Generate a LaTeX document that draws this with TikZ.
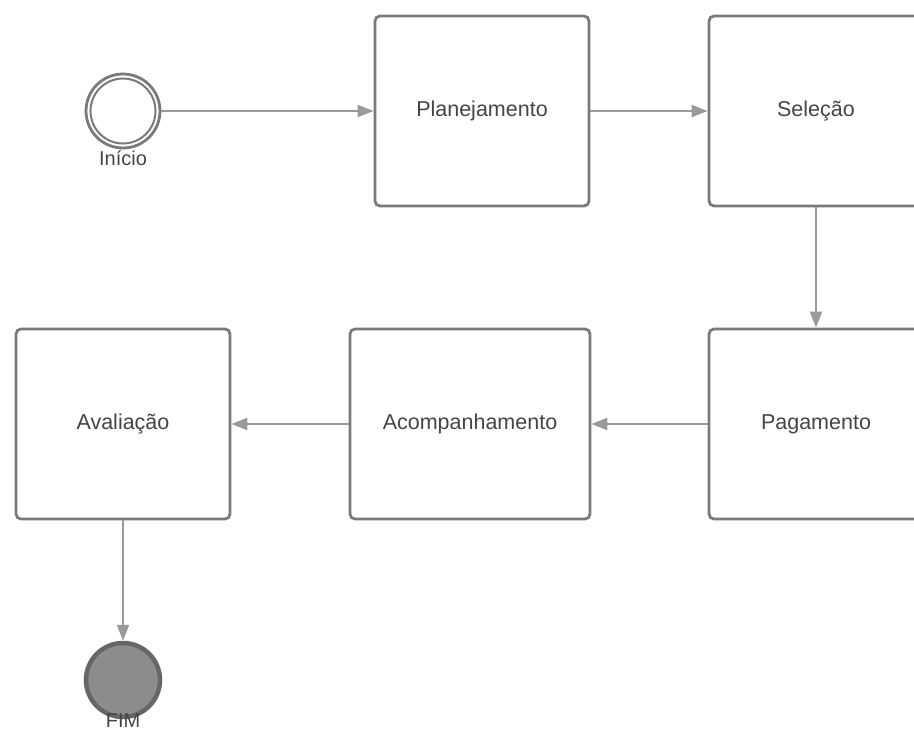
\documentclass[tikz,border=0pt]{standalone}
\usepackage{fontspec}
\setmainfont{Liberation Sans}
\usetikzlibrary{arrows.meta}
\definecolor{boxline}{HTML}{7A7A7A}
\definecolor{flowline}{HTML}{9A9A9A}
\definecolor{txt}{HTML}{454545}
\definecolor{endfill}{HTML}{8C8C8C}
\definecolor{endline}{HTML}{666666}
\tikzset{
  task/.style={draw=boxline, line width=2.8pt, rounded corners=5pt, fill=white,
    minimum width=214pt, minimum height=190pt, text=txt,
    font=\fontsize{21.5}{24}\selectfont, inner sep=0pt},
  flow/.style={draw=flowline, line width=2.2pt,
    -{Triangle[length=16pt,width=12pt]}},
  lbl/.style={text=txt, font=\fontsize{20}{22}\selectfont, inner sep=0pt},
}
\begin{document}
\begin{tikzpicture}[x=1pt,y=-1pt]
\useasboundingbox (0,0) rectangle (914,731);
\begin{scope}
\clip (0,0) rectangle (914,731);
% process boxes
\node[task] (plan) at (482,111) {Planejamento};
\node[task] (sel)  at (816,111) {Seleção};
\node[task] (pag)  at (816,424) {Pagamento};
\node[task, minimum width=240pt] (acomp) at (470,424) {Acompanhamento};
\node[task] (aval) at (123,424) {Avaliação};
% start event: double ring
\node[circle, draw=boxline, line width=2.8pt, minimum size=74pt, inner sep=0pt] (ini) at (123,111) {};
\draw[boxline, line width=2pt] (ini.center) circle (32.5pt);
\node[lbl] (inilbl) at (123,158) {Início};
% end event
\node[circle, draw=endline, fill=endfill, line width=4.5pt, minimum size=74pt, inner sep=0pt] (fim) at (123,680) {};
\node[lbl] (fimlbl) at (123,721) {FIM};
% sequence flows
\draw[flow] (ini.east) -- (plan.west);
\draw[flow] (plan.east) -- (sel.west);
\draw[flow] (sel.south) -- (pag.north);
\draw[flow] (pag.west) -- (acomp.east);
\draw[flow] (acomp.west) -- (aval.east);
\draw[flow] (aval.south) -- (fim.north);
\end{scope}
\end{tikzpicture}
\end{document}
